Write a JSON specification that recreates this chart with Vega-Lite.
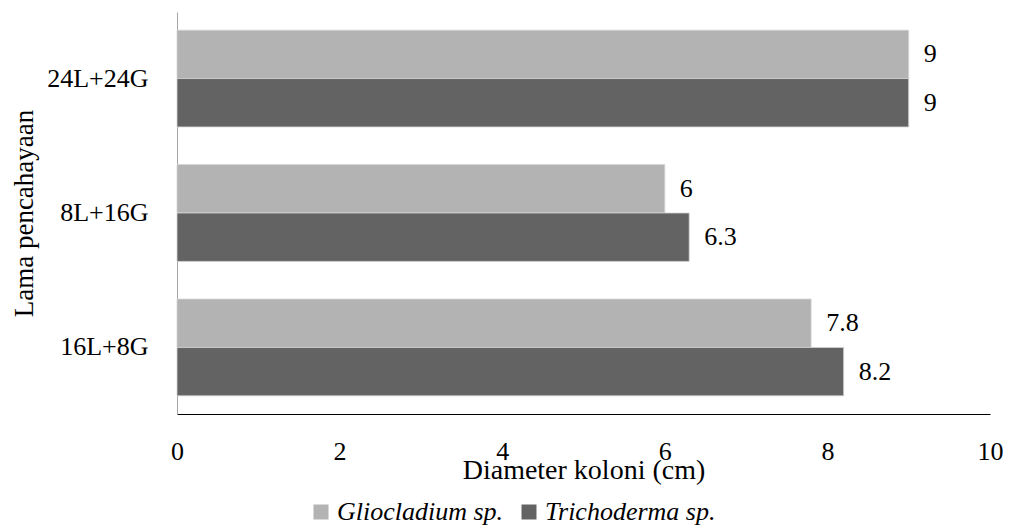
{
  "$schema": "https://vega.github.io/schema/vega-lite/v6.json",
  "width": 813,
  "height": 402,
  "autosize": {"type": "none"},
  "padding": {"left": 177, "top": 12, "right": 19, "bottom": 112},
  "background": "white",
  "config": {
    "view": {"stroke": null},
    "font": "Liberation Serif",
    "axis": {"labelFont": "Liberation Serif", "titleFont": "Liberation Serif", "labelColor": "#000000", "titleColor": "#000000", "titleFontWeight": "normal", "grid": false, "ticks": false}
  },
  "data": {
    "values": [
      {"lama": "24L+24G", "jamur": "Gliocladium sp.", "diameter": 9},
      {"lama": "24L+24G", "jamur": "Trichoderma sp.", "diameter": 9},
      {"lama": "8L+16G", "jamur": "Gliocladium sp.", "diameter": 6},
      {"lama": "8L+16G", "jamur": "Trichoderma sp.", "diameter": 6.3},
      {"lama": "16L+8G", "jamur": "Gliocladium sp.", "diameter": 7.8},
      {"lama": "16L+8G", "jamur": "Trichoderma sp.", "diameter": 8.2}
    ]
  },
  "encoding": {
    "y": {
      "field": "lama",
      "type": "nominal",
      "sort": ["24L+24G", "8L+16G", "16L+8G"],
      "scale": {"paddingInner": 0.28, "paddingOuter": 0.135},
      "axis": {
        "title": "Lama pencahayaan",
        "titleFontSize": 27,
        "titleX": -153,
        "titleY": 201,
        "titleAngle": -90,
        "titleAlign": "center",
        "titleBaseline": "middle",
        "labelFontSize": 26,
        "labelPadding": 29,
        "domainColor": "#a6a6a6",
        "domainWidth": 1
      }
    },
    "yOffset": {"field": "jamur", "type": "nominal", "sort": ["Gliocladium sp.", "Trichoderma sp."]},
    "x": {
      "field": "diameter",
      "type": "quantitative",
      "scale": {"domain": [0, 10], "nice": false},
      "axis": {
        "title": "Diameter koloni (cm)",
        "values": [0, 2, 4, 6, 8, 10],
        "titleFontSize": 28,
        "titleY": 64,
        "titleBaseline": "alphabetic",
        "labelFontSize": 26,
        "labelPadding": 24,
        "labelFlush": false,
        "domainColor": "#000000",
        "domainWidth": 1.2
      }
    }
  },
  "layer": [
    {
      "mark": {"type": "bar", "stroke": "#d4d4d4", "strokeWidth": 0.8},
      "encoding": {
        "color": {
          "field": "jamur",
          "type": "nominal",
          "scale": {"domain": ["Gliocladium sp.", "Trichoderma sp."], "range": ["#b3b3b3", "#636363"]},
          "legend": {
            "title": null,
            "orient": "none",
            "direction": "horizontal",
            "legendX": 131,
            "legendY": 487,
            "symbolType": "square",
            "symbolSize": 225,
            "symbolStrokeWidth": 0,
            "labelFont": "Liberation Serif",
            "labelFontStyle": "italic",
            "labelFontSize": 26,
            "labelColor": "#000000",
            "labelLimit": 0,
            "labelOffset": 3,
            "columnPadding": 12
          }
        }
      }
    },
    {
      "mark": {"type": "text", "align": "left", "baseline": "middle", "dx": 15, "fontSize": 26, "font": "Liberation Serif", "color": "#000000"},
      "encoding": {
        "text": {"field": "diameter", "type": "quantitative"}
      }
    }
  ]
}
